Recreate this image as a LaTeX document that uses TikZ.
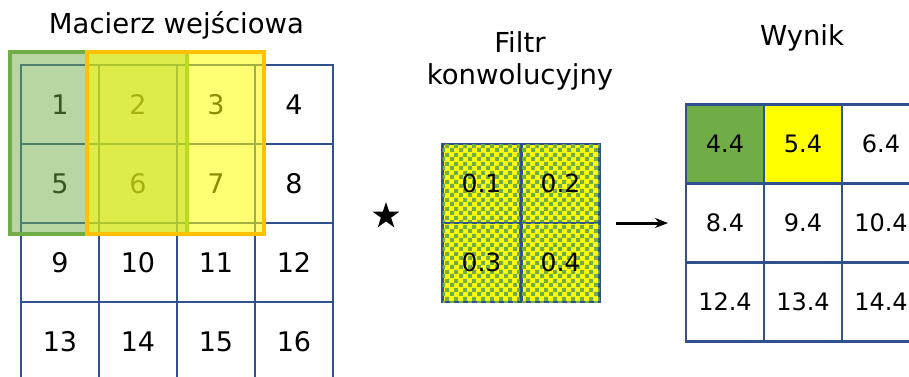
\documentclass[tikz,border=0pt]{standalone}
\usepackage{fontspec}
\setmainfont{DejaVu Sans}
\usepackage{tikz}
\usetikzlibrary{arrows.meta,positioning,calc,shapes.geometric,patterns.meta}
\definecolor{siatka}{RGB}{47,82,143}
\definecolor{zielony}{RGB}{112,173,71}
\definecolor{zolty}{RGB}{255,255,0}
\definecolor{pomar}{RGB}{255,192,0}

% green squares on a yellow ground
\tikzdeclarepattern{
  name=szachownica,
  type=uncolored,
  bounding box={(0pt,0pt) and (9pt,9pt)},
  tile size={(9pt,9pt)},
  code={\fill (0pt,0pt) rectangle (4.5pt,4.5pt);
        \fill (4.5pt,4.5pt) rectangle (9pt,9pt);}
}

\tikzset{
  komorka/.style={draw=siatka, line width=2.5pt, minimum width=78pt,
    minimum height=79pt, inner sep=0pt, outer sep=0pt,
    font=\fontsize{27}{31}\selectfont},
  filtr/.style={komorka, fill=zolty,
    postaction={pattern=szachownica, pattern color=zielony},
    font=\fontsize{25}{30}\selectfont},
  wynik/.style={komorka, minimum height=79pt,
    font=\fontsize{24}{29}\selectfont},
  tytul/.style={anchor=base, font=\fontsize{27.5}{31.5}\selectfont, align=center},
}

\begin{document}
\begin{tikzpicture}[x=1pt, y=-1pt, >={Stealth[length=13pt, width=10pt]}]
\useasboundingbox (0,0) rectangle (909,376);

% input matrix 4x4
\foreach \r in {1,...,4}
  \foreach \c in {1,...,4}{
    \pgfmathtruncatemacro{\n}{4*(\r-1)+\c}
    \node[komorka] (m\r\c) at ({60+78*(\c-1)},{104.5+79*(\r-1)}) {\n};
  }
\node[tytul] (tm) at (176.5,33) {Macierz wejściowa};

% sliding window, two positions
\draw[zielony, line width=3.5pt, fill=zielony, fill opacity=0.5]
  (10,52) rectangle (187,234);
\draw[pomar, line width=3.5pt, fill=zolty, fill opacity=0.55]
  (87,52) rectangle (264,234);

% convolution sign
\node[star, star points=5, star point ratio=2.6, fill=black,
  minimum size=28pt, inner sep=0pt] (gw) at (386,216) {};

% filter 2x2
\node[filtr] (f11) at (481.5,183.5) {0.1};
\node[filtr] (f12) at (560.5,183.5) {0.2};
\node[filtr] (f21) at (481.5,262.5) {0.3};
\node[filtr] (f22) at (560.5,262.5) {0.4};
\node[tytul] (tf) at (520,84) {Filtr\\konwolucyjny};

% result 3x3
\node[wynik, fill=zielony] (w11) at (725,144) {4.4};
\node[wynik, fill=zolty] (w12) at (803,144) {5.4};
\node[wynik] (w13) at (881,144) {6.4};
\node[wynik] (w21) at (725,223) {8.4};
\node[wynik] (w22) at (803,223) {9.4};
\node[wynik] (w23) at (881,223) {10.4};
\node[wynik] (w31) at (725,302) {12.4};
\node[wynik] (w32) at (803,302) {13.4};
\node[wynik] (w33) at (881,302) {14.4};
\node[tytul] (tw) at (802,45) {Wynik};

\draw[->, line width=3pt] ([xshift=16pt]f12.south east) -- ([xshift=-18pt]w21.west);
\end{tikzpicture}
\end{document}
